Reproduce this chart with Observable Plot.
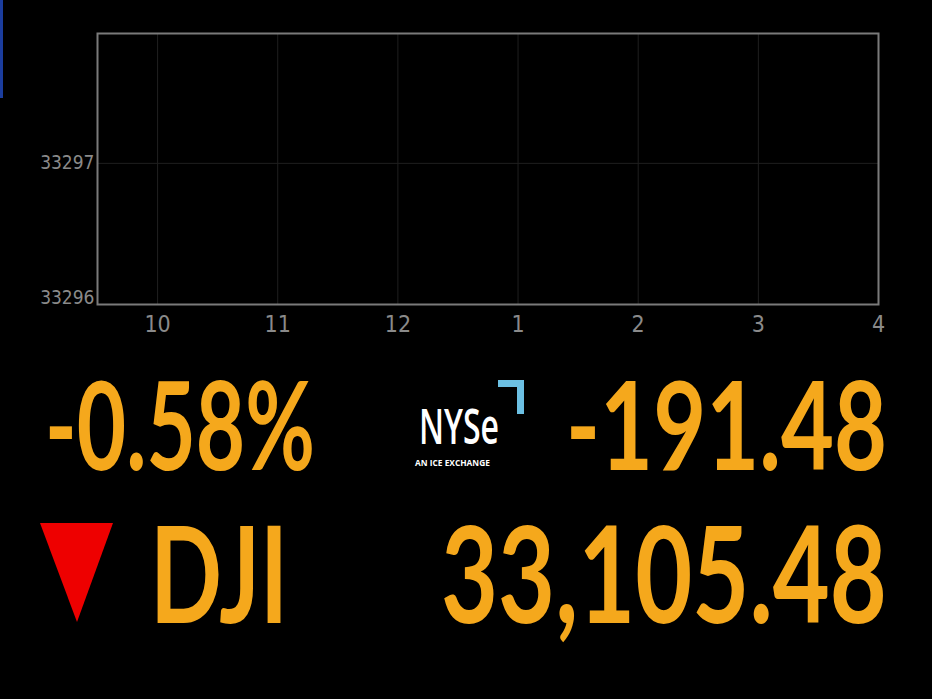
<!DOCTYPE html>
<html>
<head>
<meta charset="utf-8">
<script src="https://cdn.jsdelivr.net/npm/d3@7"></script>
<script src="https://cdn.jsdelivr.net/npm/@observablehq/plot@0.6"></script>
<style>
  html, body { margin: 0; padding: 0; background: #000; width: 932px; height: 699px; overflow: hidden; }
  #wrap { position: relative; width: 932px; height: 699px; background: #000; }
  #chart { position: absolute; left: 0; top: 0; }
  #ticker { position: absolute; left: 0; top: 0; }
  #blue { position: absolute; left: 0; top: 0; width: 3px; height: 98px; background: #1b3d9e; }
</style>
</head>
<body>
<div id="wrap">
  <div id="chart"></div>
  <svg id="ticker" width="932" height="699"></svg>
  <div id="blue"></div>
</div>
<script>
// ---- data ----
const hourTicks = [10, 11, 12, 13, 14, 15, 16];
const hourLabels = ["10", "11", "12", "1", "2", "3", "4"];
const xDomain = [9.5, 16];
const yDomain = [33296, 33297.92];
const yTicks = [33296, 33297];
const pctChange = "-0.58%";
const pointChange = "-191.48";
const indexName = "DJI";
const indexValue = "33,105.48";
const exchangeName = "NYSe";
const exchangeTag = "AN ICE EXCHANGE";

const labelOf = d => hourLabels[hourTicks.indexOf(d)];

const chart = Plot.plot({
  width: 932,
  height: 340,
  marginLeft: 97,
  marginRight: 54,
  marginTop: 33,
  marginBottom: 36,
  style: { background: "#000", color: "#8a8a8a", fontFamily: "Liberation Sans Narrow, DejaVu Sans Condensed, sans-serif" },
  x: { domain: xDomain, ticks: hourTicks },
  y: { domain: yDomain, ticks: yTicks },
  marks: [
    Plot.gridX(hourTicks, { stroke: "#1f1f1f", strokeOpacity: 1, strokeWidth: 1 }),
    Plot.gridY([33297], { stroke: "#1f1f1f", strokeOpacity: 1, strokeWidth: 1 }),
    Plot.frame({ stroke: "#7a7a7a", strokeWidth: 2 }),
    Plot.axisX(hourTicks, { tickSize: 0, tickPadding: 11, fontSize: 23, fill: "#8a8a8a", tickFormat: labelOf, label: null }),
    Plot.axisY([33297], { tickSize: 0, tickPadding: 3, fontSize: 19, fill: "#8a8a8a", tickFormat: d => String(d), label: null }),
    Plot.axisY([33296], { tickSize: 0, tickPadding: 3, fontSize: 19, fill: "#8a8a8a", dy: -7, tickFormat: d => String(d), label: null })
  ]
});
document.getElementById("chart").append(chart);

// ---- ticker board ----
const svg = d3.select("#ticker");
const orange = "#f5a81c";
// place text so that its rendered width equals `width`, by horizontal scaling
function fitText(str, x, baseline, width, size, family, weight, fill) {
  const g = svg.append("g");
  const t = g.append("text")
    .attr("x", 0).attr("y", 0)
    .attr("font-family", family)
    .attr("font-weight", weight)
    .attr("font-size", size)
    .attr("fill", fill)
    .text(str);
  const natural = t.node().getComputedTextLength();
  const sx = width / natural;
  g.attr("transform", `translate(${x},${baseline}) scale(${sx},1)`);
}
const bigFont = "Lato, Open Sans, sans-serif";
fitText(pctChange, 45, 470, 270, 123, bigFont, 700, orange);
fitText(pointChange, 566, 470, 321, 123, bigFont, 700, orange);
fitText(indexName, 150, 623, 138, 134, bigFont, 700, orange);
fitText(indexValue, 441, 623, 446, 134, bigFont, 700, orange);

// down triangle
svg.append("path").attr("d", "M40,523 L113,523 L77,622 Z").attr("fill", "#ee0000");

// NYSE logo
fitText(exchangeName, 419, 444, 80, 48, "Open Sans, Lato, sans-serif", 600, "#fff");
fitText(exchangeTag, 415, 466, 75, 9, "Open Sans, Lato, sans-serif", 700, "#fff");
svg.append("path").attr("d", "M498,380 L524,380 L524,414 L517,414 L517,387 L498,387 Z").attr("fill", "#6cc0e3");
</script>
</body>
</html>
